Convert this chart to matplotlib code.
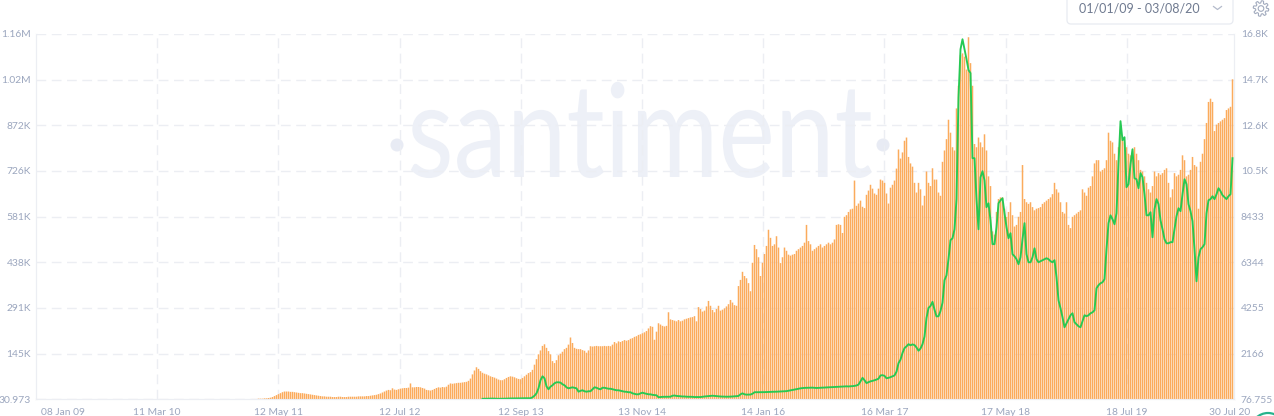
import numpy as np
import matplotlib
matplotlib.use("Agg")
import matplotlib.pyplot as plt
import matplotlib.dates as mdates
from matplotlib.patches import FancyBboxPatch, Circle
from matplotlib.patheffects import AbstractPathEffect
from matplotlib.transforms import Affine2D

plt.rcParams["font.family"] = ["Lato", "DejaVu Sans"]

# left axis labels and right axis labels, bottom to top
volume_labels = ["30.973", "145K", "291K", "438K", "581K", "726K", "872K", "1.02M", "1.16M"]
price_labels = ["76.755", "2166", "4255", "6344", "8433", "10.5K", "12.6K", "14.7K", "16.8K"]
volume_limits = [31000, 1160000]
price_limits = [76.755, 16800]

tick_dates = ["2009-01-08", "2010-03-11", "2011-05-12", "2012-07-12", "2013-09-12", "2014-11-13",
              "2016-01-14", "2017-03-16", "2018-05-17", "2019-07-18", "2020-07-30"]
tick_names = ["08 Jan 09", "11 Mar 10", "12 May 11", "12 Jul 12", "12 Sep 13", "13 Nov 14",
              "14 Jan 16", "16 Mar 17", "17 May 18", "18 Jul 19", "30 Jul 20"]

first_bar = "2011-02-09 18:00"
last_bar = "2020-07-24 18:00"

# activity per week, in thousands
volume_k = [
    32, 32, 32, 33, 33, 33, 34, 34, 35, 36, 38, 41, 44, 47, 50, 53, 55, 55, 55, 54, 54, 53, 52, 51, 50,
    50, 49, 48, 47, 46, 45, 44, 43, 42, 41, 40, 40, 39, 39, 39, 38, 38, 38, 39, 39, 38, 38, 38, 39, 39,
    39, 39, 39, 40, 40, 40, 40, 41, 41, 42, 43, 44, 45, 47, 49, 52, 55, 58, 60, 59, 65, 61, 60, 62, 64,
    65, 66, 66, 67, 80, 68, 68, 69, 69, 68, 66, 64, 60, 59, 58, 60, 63, 66, 68, 67, 69, 68, 70, 76, 80,
    79, 80, 81, 82, 82, 83, 84, 85, 88, 95, 108, 120, 130, 125, 118, 113, 110, 108, 105, 102, 100, 98, 95, 92, 90,
    90, 93, 97, 100, 102, 101, 99, 96, 94, 93, 97, 102, 107, 112, 115, 122, 138, 155, 170, 182, 196, 201, 190, 180, 170,
    149, 143, 152, 167, 172, 178, 186, 190, 200, 222, 205, 190, 187, 186, 186, 183, 181, 175, 182, 195, 194, 195, 196, 195, 195,
    195, 196, 195, 196, 195, 200, 208, 204, 210, 208, 211, 214, 212, 214, 218, 220, 224, 226, 230, 232, 235, 238, 242, 250, 257,
    255, 215, 240, 266, 262, 258, 256, 258, 300, 278, 276, 274, 272, 276, 272, 274, 278, 280, 282, 284, 285, 288, 272, 316, 310,
    302, 305, 318, 335, 320, 307, 300, 310, 320, 305, 308, 312, 318, 325, 338, 330, 322, 320, 381, 400, 425, 412, 405, 390, 365,
    453, 508, 495, 470, 412, 453, 480, 505, 555, 530, 505, 510, 535, 500, 452, 470, 500, 490, 478, 475, 478, 480, 490, 495, 500,
    505, 515, 570, 520, 510, 490, 495, 500, 505, 510, 500, 505, 510, 515, 510, 515, 525, 570, 572, 570, 545, 595, 600, 610, 618,
    620, 707, 629, 636, 645, 626, 622, 663, 676, 694, 682, 667, 663, 682, 710, 707, 700, 667, 636, 685, 694, 707, 744, 803, 775,
    794, 830, 840, 780, 760, 750, 700, 670, 700, 680, 630, 660, 735, 700, 690, 745, 710, 710, 670, 660, 765, 800, 835, 895, 855,
    810, 800, 930, 1000, 1095, 1100, 1090, 1050, 1150, 1070, 1000, 820, 810, 840, 825, 810, 850, 800, 720, 690, 550, 540, 610, 650, 655,
    655, 620, 595, 610, 640, 600, 565, 570, 595, 610, 755, 650, 640, 635, 640, 625, 615, 620, 622, 625, 635, 640, 645, 650, 655,
    665, 700, 680, 670, 640, 610, 605, 640, 570, 560, 595, 600, 605, 610, 615, 680, 670, 660, 685, 690, 720, 760, 770, 770, 735,
    740, 745, 770, 855, 830, 825, 790, 770, 810, 865, 840, 825, 810, 790, 785, 800, 810, 790, 770, 740, 735, 720, 700, 680, 670,
    690, 735, 720, 730, 725, 730, 740, 745, 700, 655, 680, 730, 720, 725, 740, 785, 770, 720, 725, 740, 780, 755, 750, 620, 765,
    790, 835, 885, 950, 960, 950, 860, 880, 885, 890, 895, 900, 925, 930, 935, 1020,
]

# price on the right axis, same weeks, starts later than the bars
price = [
    100, 100, 105, 105, 110, 110, 105, 105, 100, 100, 105, 105, 110, 110, 115, 115, 115, 120, 120, 120, 125, 125, 125, 130,
    125, 170, 240, 350, 580, 950, 1130, 1040, 670, 535, 655, 720, 810, 855, 855, 840, 765, 720, 625, 580, 605, 625, 605, 580,
    425, 465, 490, 445, 425, 445, 445, 535, 625, 605, 560, 535, 605, 605, 580, 560, 560, 535, 510, 490, 490, 470, 445, 425,
    420, 400, 400, 350, 330, 305, 305, 350, 380, 350, 330, 305, 305, 280, 270, 260, 170, 180, 190, 190, 195, 195, 195, 240,
    250, 230, 225, 215, 205, 205, 195, 195, 190, 190, 180, 180, 180, 180, 195, 205, 215, 230, 235, 240, 230, 225, 215, 205,
    200, 195, 195, 195, 200, 205, 215, 220, 230, 305, 350, 305, 290, 290, 295, 330, 400, 400, 400, 400,
    400, 405, 410, 410, 415, 420, 420, 425, 430, 435, 440, 445, 450, 470, 490, 505, 520, 540, 560, 580,
    590, 600, 600, 605, 610, 610, 600, 595, 600, 610, 615, 620, 625, 625, 630, 640, 640, 650, 655, 660, 660, 665, 670, 665, 670,
    680, 690, 710, 750, 900, 1060, 950, 820, 860, 900, 920, 950, 980, 1020, 1170, 1180, 1150, 1040, 1060, 1090, 1130, 1170,
    1340, 1730, 1890, 2200, 2420, 2500, 2600, 2550, 2590, 2560, 2450, 2300, 2400, 2600, 2950, 3800, 4260, 4350, 4540, 4180,
    3870, 3880, 4120, 4500, 5530, 5755, 6500, 7360, 7450, 7860, 9240, 13900, 16100, 16560, 16100, 15650, 15150, 15010,
    11115, 11115, 9240, 7860, 10240, 10520, 10100, 8870, 9050, 8275, 7180, 7180, 7955, 9050, 9190, 9280, 8595, 7955, 7450,
    7680, 6720, 6625, 6490, 6260, 6580, 7405, 8140, 6720, 6350, 6350, 6580, 6990, 6490, 6350, 6400, 6445, 6490, 6535, 6490,
    6400, 6350, 6445, 5665, 4610, 4245, 3830, 3375, 3560, 3740, 3925, 4015, 3605, 3510, 3420, 3375, 3650, 3925, 3880, 3925,
    4015, 4060, 4150, 5160, 5300, 5390, 5435, 5575, 6950, 8140, 8500, 8320, 8090, 8595, 10890, 12810, 11940, 12075, 9785, 9925,
    10840, 11525, 10200, 10150, 9740, 10430, 10245, 9465, 8500, 8500, 8640, 7495, 8780, 9240, 9010, 8275, 7860, 7405, 7220,
    7220, 7270, 7270, 7860, 8460, 8825, 8690, 9465, 10150, 9925, 9010, 8690, 8230, 6950, 5480, 6580, 6950, 7040, 7180, 8595,
    9190, 9240, 9375, 9240, 9465, 9740, 9605, 9420, 9330, 9240, 9375, 9465, 11115,
]

text_color = "#9ba6be"
grid_color = "#eceef3"


class StretchY(AbstractPathEffect):
    # taller glyphs, stretched about the baseline
    def __init__(self, baseline, factor):
        super().__init__()
        self.baseline = baseline
        self.factor = factor

    def draw_path(self, renderer, gc, tpath, affine, rgbFace=None):
        stretch = Affine2D().translate(0, -self.baseline).scale(1, self.factor).translate(0, self.baseline)
        renderer.draw_path(gc, tpath, affine + stretch, rgbFace)


fig = plt.figure(figsize=(12.74, 4.16), dpi=100)

# page furniture lives on an overlay in pixel coordinates
page = fig.add_axes([0, 0, 1, 1], zorder=5)
page.set_xlim(0, 1274)
page.set_ylim(416, 0)
page.axis("off")

ax = fig.add_axes([36 / 1274, 16.7 / 416, 1198 / 1274, 365.3 / 416])
ax2 = ax.twinx()

bar_dates = np.linspace(mdates.datestr2num(first_bar), mdates.datestr2num(last_bar), len(volume_k))
bars = ax.bar(bar_dates, np.array(volume_k) * 1000, width=5.3, color="#fbab5c", linewidth=0, zorder=3)
for b in bars:
    b.set_snap(False)
ax2.plot(bar_dates[-len(price):], price, color="#26c953", lw=1.35, solid_joinstyle="round")

ticks = mdates.datestr2num(tick_dates)
ax.set_xlim(ticks[0], ticks[-1])
ax.set_ylim(volume_limits)
ax2.set_ylim(price_limits)

ax.set_xticks(ticks[1:-1])
ax.set_xticklabels([])
ax.set_yticks(np.linspace(volume_limits[0], volume_limits[1], 9))
ax.set_yticklabels(volume_labels)
ax2.set_yticks(np.linspace(price_limits[0], price_limits[1], 9))
ax2.set_yticklabels(price_labels)

ax.tick_params(axis="both", length=0, labelcolor=text_color, labelsize=7.4, pad=3.6)
ax2.tick_params(axis="both", length=0, labelcolor=text_color, labelsize=7.4, pad=5)

ax.set_axisbelow(True)
ax.grid(True, color=grid_color, lw=1, linestyle=(0, (7, 4)), zorder=1)

for a in (ax, ax2):
    for side in a.spines:
        a.spines[side].set_color(grid_color)
        a.spines[side].set_linewidth(0.8)
    a.spines["top"].set_visible(False)
    a.patch.set_visible(False)

# date labels, the two at the ends are pulled inside the plot
offsets = [27] + [0] * 9 + [-4]
for d, name, off in zip(ticks, tick_names, offsets):
    ax.annotate(name, (d, 0), xycoords=("data", "axes fraction"), xytext=(off * 0.72, -9.5),
                textcoords="offset points", ha="center", va="center", color=text_color, fontsize=7.4)

# watermark
back = fig.add_axes([0, 0, 1, 1], zorder=-1)
back.set_xlim(0, 1274)
back.set_ylim(416, 0)
back.axis("off")
mark = back.text(640, 177, "santiment", family="Lato", fontsize=77, color="#edf0f7",
                 ha="center", va="baseline")
mark.set_path_effects([StretchY(416 - 177, 1.22)])
for cx in (397, 883):
    back.add_patch(Circle((cx, 145), 6.5, color="#e8ebf4", lw=0))

# date range box, gear and the corner badge
page.add_patch(FancyBboxPatch((1067, -12), 166, 36, boxstyle="round,pad=0,rounding_size=4",
                              fc="white", ec="#e8ebf1", lw=0.9))
page.text(1139, 8.5, "01/01/09 - 03/08/20", color="#6f7a90", fontsize=9, ha="center", va="center")
page.plot([1213.5, 1217.5, 1221.5], [6.5, 9.5, 6.5], color="#b4bbcb", lw=0.9)

angle = np.linspace(0, 2 * np.pi, 161)
radius = 6.6 + 1.2 * np.tanh(3 * np.sin(8 * angle))
page.plot(1261 + radius * np.cos(angle), 8.5 + radius * np.sin(angle), color="#a2abbe", lw=0.8)
page.add_patch(Circle((1261, 8.5), 2.8, fc="none", ec="#a2abbe", lw=0.8))

page.add_patch(Circle((1268, 430), 17, fc="none", ec="#26b38c", lw=1.6))

fig.savefig("out.png", dpi=100)
